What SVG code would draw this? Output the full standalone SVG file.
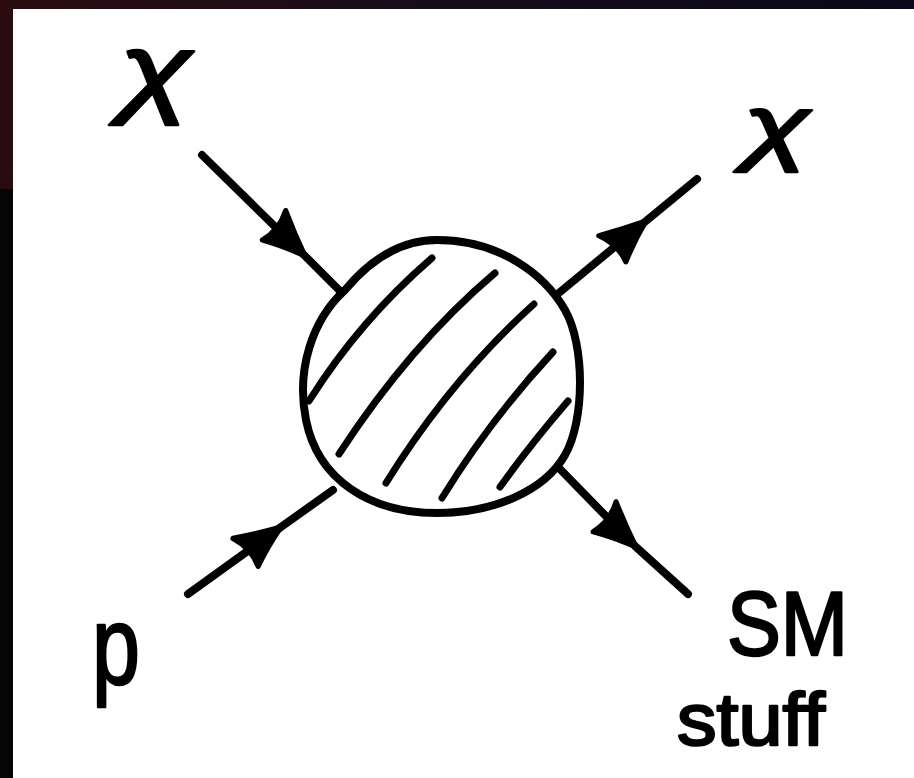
<svg xmlns="http://www.w3.org/2000/svg" width="914" height="778" viewBox="0 0 914 778">
  <defs>
    <linearGradient id="topStrip" x1="0" y1="0" x2="1" y2="0">
      <stop offset="0" stop-color="#2b0c10"/>
      <stop offset="0.5" stop-color="#160c1c"/>
      <stop offset="1" stop-color="#0a0818"/>
    </linearGradient>
    <marker id="arrow" markerUnits="userSpaceOnUse" markerWidth="64" markerHeight="54" viewBox="-5 -26 56 52" refX="44" refY="0" orient="auto">
      <path d="M0,-18 Q22,-8 44,0 Q22,8 4,18 Q9,0 0,-18 Z" fill="#000" stroke="#000" stroke-width="5" stroke-linejoin="round"/>
    </marker>
    <style>
      .ln { fill: none; stroke: #000; stroke-width: 8; stroke-linecap: round; stroke-linejoin: round; }
      .hatch { fill: none; stroke: #000; stroke-width: 7; stroke-linecap: round; }
      .blob { fill: #fff; stroke: #000; stroke-width: 8; stroke-linejoin: round; }
      .lbl { font-family: "Liberation Sans", "DejaVu Sans", sans-serif; fill: #000; stroke: #000; stroke-width: 2.5; stroke-linejoin: round; }
    </style>
  </defs>

  <!-- background / frame -->
  <rect x="0" y="0" width="914" height="778" fill="#050505"/>
  <rect x="0" y="0" width="914" height="10" fill="url(#topStrip)"/>
  <rect x="0" y="0" width="13" height="189" fill="#2a0c10"/>
  <rect x="13" y="9" width="901" height="769" fill="#ffffff"/>

  <!-- connectors -->
  <g id="connectors">
    <path class="ln" d="M202,155 L305,256 L341,292" marker-mid="url(#arrow)"/>
    <path class="ln" d="M554,297 L646,221 L697,179" marker-mid="url(#arrow)"/>
    <path class="ln" d="M188,594 L281,527 L333,490" marker-mid="url(#arrow)"/>
    <path class="ln" d="M557,466 L636,547 L688,594" marker-mid="url(#arrow)"/>
  </g>

  <!-- central blob -->
  <g id="blob">
    <path class="blob" d="M437,240 C500,240 545,275 565,310 C585,345 585,420 565,455 C545,490 495,513 437,513 C370,513 318,480 306,420 C296,370 312,320 345,290 C370,260 400,240 437,240 Z"/>
    <path class="hatch" d="M432,258 Q360,320 309,401"/>
    <path class="hatch" d="M495,273 Q410,345 339,454"/>
    <path class="hatch" d="M534,304 Q450,380 386,483"/>
    <path class="hatch" d="M553,352 Q490,420 442,498"/>
    <path class="hatch" d="M568,401 Q530,445 500,487"/>
  </g>

  <!-- labels -->
  <g id="label-chi-in">
    <text class="lbl" x="119" y="104" font-size="100" font-style="italic" textLength="73" lengthAdjust="spacingAndGlyphs">χ</text>
  </g>
  <g id="label-chi-out">
    <text class="lbl" x="743" y="155" font-size="84" font-style="italic" textLength="67" lengthAdjust="spacingAndGlyphs">χ</text>
  </g>
  <g id="label-p">
    <text class="lbl" x="92" y="684" font-size="112" textLength="48" lengthAdjust="spacingAndGlyphs">p</text>
  </g>
  <g id="label-sm">
    <text class="lbl" x="727" y="655" font-size="90" textLength="121" lengthAdjust="spacingAndGlyphs">SM</text>
    <text class="lbl" x="677" y="745" font-size="75" textLength="148" lengthAdjust="spacingAndGlyphs">stuff</text>
  </g>
</svg>
